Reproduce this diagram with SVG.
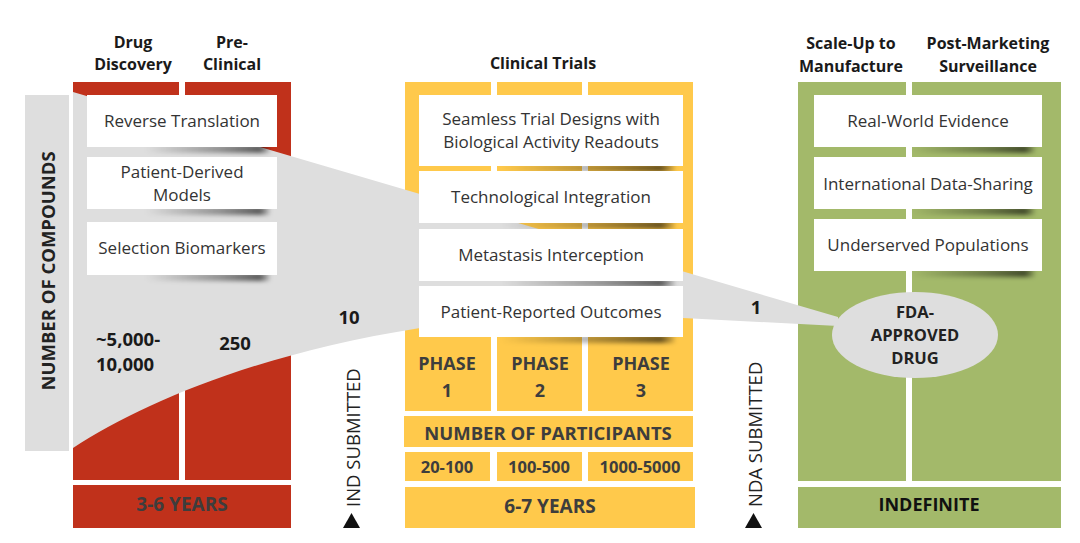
<svg xmlns="http://www.w3.org/2000/svg" width="1080" height="543" viewBox="0 0 1080 543">
<defs>
<style>
.red{fill:#C0311B}
.yel{fill:#FFC94B}
.grn{fill:#A3B96A}
.gry{fill:#DEDEDE}
.box{fill:#FFFFFF}
.bt{font-family:"Open Sans",Lato,sans-serif;font-size:17px;fill:#333;text-anchor:middle}
.hd{font-family:"Open Sans",Lato,sans-serif;font-size:16px;font-weight:bold;fill:#1a1a1a;text-anchor:middle}
.num{font-family:"Open Sans",Lato,sans-serif;font-size:18.5px;font-weight:bold;fill:#1a1a1a}
.yt{font-family:"Open Sans",Lato,sans-serif;font-size:18px;font-weight:bold;fill:#3d3d3d;text-anchor:middle}
.vt{font-family:"Open Sans",Lato,sans-serif;font-size:18.5px;fill:#222}
.shd{fill:url(#sg);filter:url(#blur)}
</style>
<linearGradient id="sg" x1="0" y1="0" x2="1" y2="0">
<stop offset="0" stop-color="#000" stop-opacity="0"/>
<stop offset="0.6" stop-color="#000" stop-opacity="0.35"/>
<stop offset="0.92" stop-color="#000" stop-opacity="0.6"/>
<stop offset="1" stop-color="#000" stop-opacity="0.1"/>
</linearGradient>
<filter id="blur" x="-10%" y="-100%" width="120%" height="300%">
<feGaussianBlur stdDeviation="2"/>
</filter>
</defs>
<rect width="1080" height="543" fill="#FFFFFF"/>

<!-- section backgrounds -->
<g id="stage-discovery">
<rect class="red" x="73" y="82" width="106" height="398"/>
<rect class="red" x="185" y="82" width="106" height="398"/>
<rect class="red" x="73" y="485" width="218" height="43"/>
</g>
<g id="stage-clinical">
<rect class="yel" x="405" y="82" width="86" height="329"/>
<rect class="yel" x="497" y="82" width="85" height="329"/>
<rect class="yel" x="588" y="82" width="105" height="329"/>
<rect class="yel" x="404" y="416" width="289" height="31"/>
<rect class="yel" x="405" y="452" width="85" height="29"/>
<rect class="yel" x="497" y="452" width="85" height="29"/>
<rect class="yel" x="588" y="452" width="105" height="29"/>
<rect class="yel" x="405" y="487" width="290" height="41"/>
</g>
<g id="stage-market">
<rect class="grn" x="798" y="82" width="108" height="399"/>
<rect class="grn" x="912" y="82" width="149" height="399"/>
<rect class="grn" x="798" y="487" width="263" height="41"/>
</g>

<!-- compounds axis -->
<g id="axis-compounds">
<rect class="gry" x="25" y="95" width="44" height="356"/>
<text class="num" text-anchor="middle" transform="translate(55,271) rotate(-90)" style="fill:#222">NUMBER OF COMPOUNDS</text>
</g>

<!-- funnel -->
<g id="funnel">
<path class="gry" d="M73,92 L838,317 L838,326 L683,318 L420,328 C250,355 140,405 73,448 Z"/>
</g>

<!-- shadows -->
<g id="shadows">
<rect class="shd" x="145" y="145" width="125" height="8"/>
<rect class="shd" x="145" y="207" width="125" height="8"/>
<rect class="shd" x="145" y="273" width="125" height="8"/>
<rect class="shd" x="500" y="164" width="175" height="8"/>
<rect class="shd" x="500" y="221" width="175" height="8"/>
<rect class="shd" x="500" y="279" width="175" height="8"/>
<rect class="shd" x="500" y="335" width="175" height="8"/>
<rect class="shd" x="910" y="145" width="125" height="8"/>
<rect class="shd" x="910" y="207" width="125" height="8"/>
<rect class="shd" x="910" y="269" width="125" height="8"/>
</g>

<!-- headers -->
<g id="hdr-discovery"><text class="hd" x="133" y="48">Drug</text><text class="hd" x="133" y="70">Discovery</text></g>
<g id="hdr-preclinical"><text class="hd" x="232" y="48">Pre-</text><text class="hd" x="232" y="70">Clinical</text></g>
<g id="hdr-clinical"><text class="hd" x="543" y="69">Clinical Trials</text></g>
<g id="hdr-scaleup"><text class="hd" x="851" y="49">Scale-Up to</text><text class="hd" x="851" y="72">Manufacture</text></g>
<g id="hdr-postmarket"><text class="hd" x="988" y="49">Post-Marketing</text><text class="hd" x="988" y="72">Surveillance</text></g>

<!-- red boxes -->
<g id="reverse-translation"><rect class="box" x="87" y="95" width="190" height="52"/><text class="bt" x="182" y="127">Reverse Translation</text></g>
<g id="patient-derived"><rect class="box" x="87" y="157" width="190" height="52"/><text class="bt" x="182" y="178">Patient-Derived</text><text class="bt" x="182" y="201">Models</text></g>
<g id="selection-biomarkers"><rect class="box" x="87" y="222" width="190" height="53"/><text class="bt" x="182" y="254">Selection Biomarkers</text></g>

<!-- clinical boxes -->
<g id="seamless"><rect class="box" x="419" y="95" width="264" height="71"/><text class="bt" x="551" y="125">Seamless Trial Designs with</text><text class="bt" x="551" y="148">Biological Activity Readouts</text></g>
<g id="tech-integration"><rect class="box" x="419" y="171" width="264" height="52"/><text class="bt" x="551" y="203">Technological Integration</text></g>
<g id="metastasis"><rect class="box" x="419" y="229" width="264" height="52"/><text class="bt" x="551" y="261">Metastasis Interception</text></g>
<g id="pro"><rect class="box" x="419" y="286" width="264" height="51"/><text class="bt" x="551" y="318">Patient-Reported Outcomes</text></g>

<!-- green boxes -->
<g id="rwe"><rect class="box" x="814" y="95" width="228" height="52"/><text class="bt" x="928" y="127">Real-World Evidence</text></g>
<g id="data-sharing"><rect class="box" x="814" y="157" width="228" height="52"/><text class="bt" x="928" y="190">International Data-Sharing</text></g>
<g id="underserved"><rect class="box" x="814" y="219" width="228" height="52"/><text class="bt" x="928" y="251">Underserved Populations</text></g>

<!-- FDA ellipse -->
<g id="fda-approved">
<ellipse class="gry" cx="915" cy="335" rx="83" ry="43"/>
<text class="hd" x="915" y="318" style="fill:#222;font-size:16.5px">FDA-</text>
<text class="hd" x="915" y="341" style="fill:#222;font-size:16.5px">APPROVED</text>
<text class="hd" x="915" y="364" style="fill:#222;font-size:16.5px">DRUG</text>
</g>

<!-- counts -->
<g id="counts">
<text class="num" x="96" y="346">~5,000-</text>
<text class="num" x="96" y="371">10,000</text>
<text class="num" x="235" y="350" text-anchor="middle">250</text>
<text class="num" x="349" y="324" text-anchor="middle">10</text>
<text class="num" x="756" y="314" text-anchor="middle">1</text>
</g>

<!-- phase labels -->
<g id="phases">
<text class="yt" x="447" y="370">PHASE</text><text class="yt" x="447" y="397">1</text>
<text class="yt" x="540" y="370">PHASE</text><text class="yt" x="540" y="397">2</text>
<text class="yt" x="641" y="370">PHASE</text><text class="yt" x="641" y="397">3</text>
<text class="yt" x="548" y="440" style="font-size:18.5px">NUMBER OF PARTICIPANTS</text>
<text class="yt" x="447" y="473" style="font-size:16.5px">20-100</text>
<text class="yt" x="539" y="473" style="font-size:16.5px">100-500</text>
<text class="yt" x="640" y="473" style="font-size:16.5px">1000-5000</text>
<text class="yt" x="550" y="513" style="font-size:19px">6-7 YEARS</text>
</g>

<g id="durations">
<text class="yt" x="182" y="511" style="font-size:19px">3-6 YEARS</text>
<text class="yt" x="929" y="511" style="fill:#111">INDEFINITE</text>
</g>

<!-- milestones -->
<g id="ind-submitted">
<polygon points="351.5,513 343,528 360,528" fill="#111"/>
<text class="vt" transform="translate(360,507) rotate(-90)">IND SUBMITTED</text>
</g>
<g id="nda-submitted">
<polygon points="753.5,513 745,528 762,528" fill="#111"/>
<text class="vt" transform="translate(762,507) rotate(-90)">NDA SUBMITTED</text>
</g>
</svg>
